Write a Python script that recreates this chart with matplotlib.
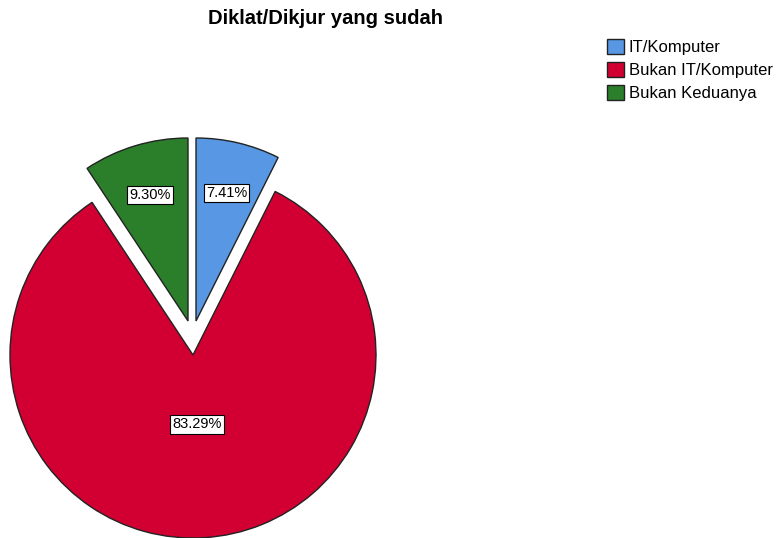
import numpy as np
import matplotlib.pyplot as plt

categories = ["IT/Komputer", "Bukan IT/Komputer", "Bukan Keduanya"]
values = [7.41, 83.29, 9.30]
colors = ["#5797e3", "#d20032", "#2b7f2b"]

# how far the small slices are pulled out (pixels), mostly straight up like SPSS does it
pull = [(3, 34), (0, 0), (-5, 34)]

fig = plt.figure(figsize=(7.78, 5.38), dpi=100)
ax = fig.add_axes([0, 0, 1, 1])

wedges, texts, pcts = ax.pie(values, colors=colors, startangle=90,
                             counterclock=False, center=(193, 183), radius=183,
                             autopct="%1.2f%%", pctdistance=0.72,
                             wedgeprops=dict(edgecolor="#222222", linewidth=1),
                             textprops=dict(fontsize=10.5, family="Liberation Sans"))

# pie() resets the limits, so set them afterwards
ax.set_xlim(0, 778)
ax.set_ylim(0, 538)
ax.set_aspect("equal")
ax.axis("off")

for w, t, (dx, dy) in zip(wedges, pcts, pull):
    cx, cy = w.center
    w.set_center((cx + dx, cy + dy))
    tx, ty = t.get_position()
    t.set_position((tx + dx, ty + dy))

# the big slice has its label closer to the middle
w = wedges[1]
ang = np.deg2rad((w.theta1 + w.theta2) / 2)
cx, cy = w.center
pcts[1].set_position((cx + 0.38 * w.r * np.cos(ang), cy + 0.38 * w.r * np.sin(ang)))

for t in pcts:
    t.set_bbox(dict(boxstyle="square,pad=0.15", fc="white", ec="black", lw=0.8))

fig.text(325 / 778, 1 - 18 / 538, "Diklat/Dikjur yang sudah", ha="center", va="center",
         fontsize=14.5, fontweight="bold", family="Liberation Sans")

fig.legend(wedges, categories, loc="upper left", bbox_to_anchor=(607 / 778, 1 - 39 / 538),
           frameon=False, handlelength=1.0, handleheight=1.0, handletextpad=0.3,
           labelspacing=0.4, borderaxespad=0, borderpad=0,
           prop=dict(family="Liberation Sans", size=12))

fig.savefig("out.png", dpi=100)
